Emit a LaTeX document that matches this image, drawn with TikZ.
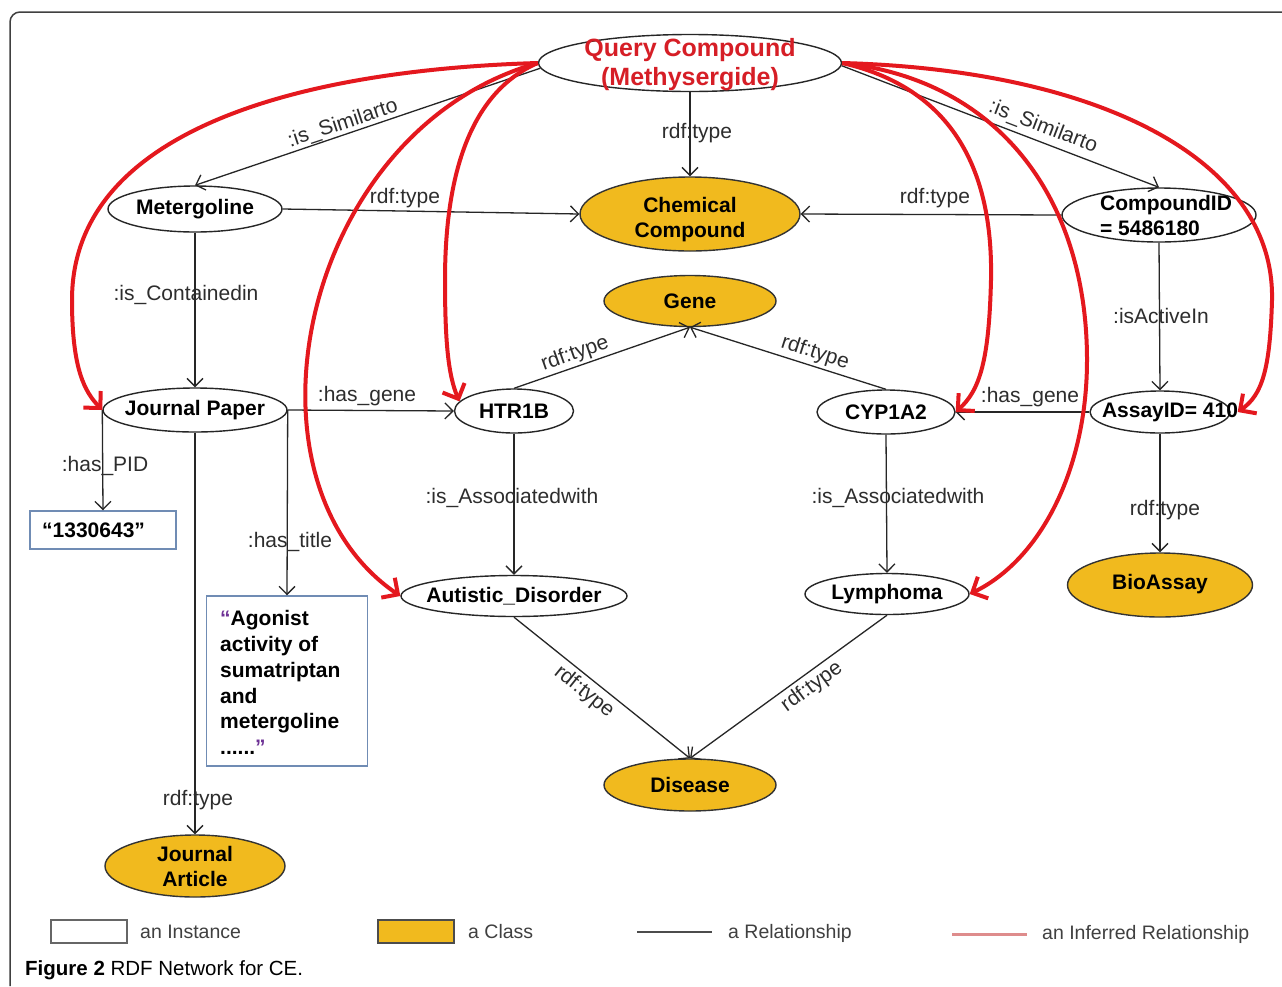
\documentclass[tikz,border=0pt]{standalone}
\usepackage{fontspec}
\setmainfont{Liberation Sans}
\usetikzlibrary{arrows.meta,shapes.geometric,calc}
\definecolor{clsyellow}{RGB}{241,186,30}
\definecolor{qred}{RGB}{214,30,38}
\definecolor{infred}{RGB}{228,24,30}
\definecolor{boxblue}{RGB}{112,140,180}
\definecolor{qpurple}{RGB}{110,50,150}
\definecolor{lblgray}{RGB}{45,45,45}
\definecolor{leginf}{RGB}{222,140,140}
\begin{document}
\begin{tikzpicture}[x=1pt,y=-1pt,
  inst/.style={ellipse, draw=black!85, line width=1.4pt, fill=white, inner sep=0pt},
  cls/.style={ellipse, draw=black!80, line width=1.4pt, fill=clsyellow, inner sep=0pt},
  ntxt/.style={font=\fontsize{21}{25}\selectfont\bfseries, align=center, inner sep=0pt},
  lbl/.style={font=\fontsize{21}{25}\selectfont, text=lblgray, inner sep=0pt},
  rel/.style={draw=black!85, line width=1.3pt, -{Straight Barb[length=8pt,width=16pt]}},
  inf/.style={draw=infred, line width=4pt, -{Straight Barb[length=12pt,width=24pt]}},
  litbox/.style={rectangle, draw=boxblue, line width=1.5pt, fill=white, inner sep=0pt},
  legtxt/.style={font=\fontsize{19.5}{22}\selectfont, text=black!75, anchor=west, inner sep=0pt},
]
\useasboundingbox (0,0) rectangle (1282,986);
\fill[white] (0,0) rectangle (1282,986);
\draw[black!75, line width=1.5pt, rounded corners=10pt] (10,986) -- (10,12) -- (1282,12);

% ---------- nodes ----------
\node[inst, minimum width=303pt, minimum height=57pt] (qc) at (690,63) {};
\node[ntxt, font=\fontsize{25}{29}\selectfont\bfseries, text=qred] (qct) at (690,64.5) {Query Compound\\(Methysergide)};

\node[cls, minimum width=220pt, minimum height=74pt] (chem) at (690,214) {};
\node[ntxt] (chemt) at (690,220) {Chemical\\Compound};

\node[cls, minimum width=172pt, minimum height=51pt] (gene) at (690,301) {};
\node[ntxt] (genet) at (690,301) {Gene};

\node[inst, minimum width=174pt, minimum height=46pt] (met) at (195,209) {};
\node[ntxt] (mett) at (195,209) {Metergoline};

\node[inst, minimum width=194pt, minimum height=54pt] (cid) at (1159,215) {};
\node[ntxt, align=left] (cidt) at (1166,215) {CompoundID\\= 5486180};

\node[inst, minimum width=184pt, minimum height=44pt] (jp) at (195,410) {};
\node[ntxt] (jpt) at (195,410) {Journal Paper};

\node[inst, minimum width=119pt, minimum height=44pt] (htr) at (514,411) {};
\node[ntxt] (htrt) at (514,411) {HTR1B};

\node[inst, minimum width=138pt, minimum height=44pt] (cyp) at (886,412) {};
\node[ntxt] (cypt) at (886,412) {CYP1A2};

\node[inst, minimum width=140pt, minimum height=42pt] (assay) at (1160,412) {};
\node[ntxt] (assayt) at (1170,412) {AssayID= 410};

\node[inst, minimum width=226pt, minimum height=41pt] (aut) at (514,596) {};
\node[ntxt] (autt) at (514,596) {Autistic\_Disorder};

\node[inst, minimum width=164pt, minimum height=41pt] (lym) at (887,594) {};
\node[ntxt] (lymt) at (887,594) {Lymphoma};

\node[cls, minimum width=185pt, minimum height=64pt] (bio) at (1160,585) {};
\node[ntxt] (biot) at (1160,584) {BioAssay};

\node[cls, minimum width=172pt, minimum height=52pt] (dis) at (690,785) {};
\node[ntxt] (dist) at (690,785) {Disease};

\node[cls, minimum width=180pt, minimum height=62pt] (ja) at (195,866) {};
\node[ntxt] (jat) at (195,866.5) {Journal\\Article};

\node[litbox, minimum width=146pt, minimum height=38pt] (pid) at (103,530) {};
\node[ntxt, anchor=west] (pidt) at (42,530) {“1330643”};

\node[litbox, minimum width=161pt, minimum height=170pt] (title) at (287,681) {};
\node[ntxt, anchor=west, align=left, font=\fontsize{21}{25.8}\selectfont\bfseries] (titlet) at (220,682.5)
  {\textcolor{qpurple}{“}Agonist\\activity of\\sumatriptan\\and\\metergoline\\......\textcolor{qpurple}{”}};

% ---------- relationships ----------
\draw[rel] (qc.south) -- (chem.north) node[lbl] (l1) at (697,133) {rdf:type};
\draw[rel] (qc.182) -- (met.north) node[lbl, rotate=18.3] (l2) at (343,124) {:is\_Similarto};
\draw[rel] (qc.359) -- (cid.north) node[lbl, rotate=-21] (l3) at (1043,127) {:is\_Similarto};
\draw[rel] (met.east) -- (chem.west) node[lbl] (l4) at (405,198) {rdf:type};
\draw[rel] (cid.west) -- (chem.east) node[lbl] (l5) at (935,198) {rdf:type};
\draw[rel] (met.south) -- (jp.north) node[lbl] (l6) at (186,295) {:is\_Containedin};
\draw[rel] (cid.south) -- (assay.north) node[lbl] (l7) at (1161,316) {:isActiveIn};
\draw[rel] (jp.east) -- (htr.west) node[lbl] (l8) at (367,396) {:has\_gene};
\draw[rel] (htr.north) -- (gene.south) node[lbl, rotate=19.4] (l9) at (575,354) {rdf:type};
\draw[rel] (cyp.north) -- (gene.south) node[lbl, rotate=-17.8] (l10) at (815,353) {rdf:type};
\draw[rel] (assay.west) -- (cyp.east) node[lbl] (l11) at (1030,397) {:has\_gene};
\draw[rel] (jp.west) -- (pid.north) node[lbl] (l12) at (105,466) {:has\_PID};
\draw[rel] (jp.east) -- (title.north) node[lbl] (l13) at (290,542) {:has\_title};
\draw[rel] (jp.south) -- (ja.north) node[lbl] (l14) at (198,800) {rdf:type};
\draw[rel] (htr.south) -- (aut.north) node[lbl] (l15) at (512,498) {:is\_Associatedwith};
\draw[rel] (cyp.south) -- (lym.north) node[lbl] (l16) at (898,498) {:is\_Associatedwith};
\draw[rel] (assay.south) -- (bio.north) node[lbl] (l17) at (1165,510) {rdf:type};
\draw[rel] (aut.south) -- (dis.north) node[lbl, rotate=-38.9] (l18) at (584,692) {rdf:type};
\draw[rel] (lym.south) -- (dis.north) node[lbl, rotate=36.2] (l19) at (812,687) {rdf:type};

% ---------- inferred relationships ----------
\draw[inf] (qc.west) .. controls (300,70) and (72,130) .. (72,300) .. controls (72,370) and (85,392) .. (jp.west);
\draw[inf] (qc.west) .. controls (475,90) and (445,165) .. (445,280) .. controls (445,340) and (448,375) .. (htr.170);
\draw[inf] (qc.west) .. controls (300,130) and (230,480) .. (aut.west);
\draw[inf] (qc.east) .. controls (960,90) and (993,180) .. (991,280) .. controls (989,360) and (980,390) .. (cyp.east);
\draw[inf] (qc.east) .. controls (1000,80) and (1087,200) .. (1087,360) .. controls (1087,470) and (1040,560) .. (lym.east);
\draw[inf] (qc.east) .. controls (1100,70) and (1275,160) .. (1272,300) .. controls (1270,370) and (1262,395) .. ($(assay.east)+(7,0)$);

% ---------- legend ----------
\node[rectangle, draw=black!60, line width=2pt, fill=white, minimum width=76pt, minimum height=23pt, inner sep=0pt] (leg1) at (89,931.5) {};
\node[legtxt] (leg1t) at (140,932) {an Instance};
\node[rectangle, draw=black!70, line width=2pt, fill=clsyellow, minimum width=76pt, minimum height=23pt, inner sep=0pt] (leg2) at (416,931.5) {};
\node[legtxt] (leg2t) at (468,932) {a Class};
\coordinate (r1a) at (637,932); \coordinate (r1b) at (712,932);
\draw[black!70, line width=2pt] (r1a) -- (r1b);
\node[legtxt] (leg3t) at (728,933) {a Relationship};
\coordinate (r2a) at (952,934); \coordinate (r2b) at (1027,934);
\draw[leginf, line width=3pt] (r2a) -- (r2b);
\node[legtxt] (leg4t) at (1042,934) {an Inferred Relationship};

% ---------- caption ----------
\node[anchor=west, inner sep=0pt, font=\fontsize{20.5}{24}\selectfont] (cap) at (25,970) {\textbf{Figure 2} RDF Network for CE.};
\end{tikzpicture}
\end{document}
